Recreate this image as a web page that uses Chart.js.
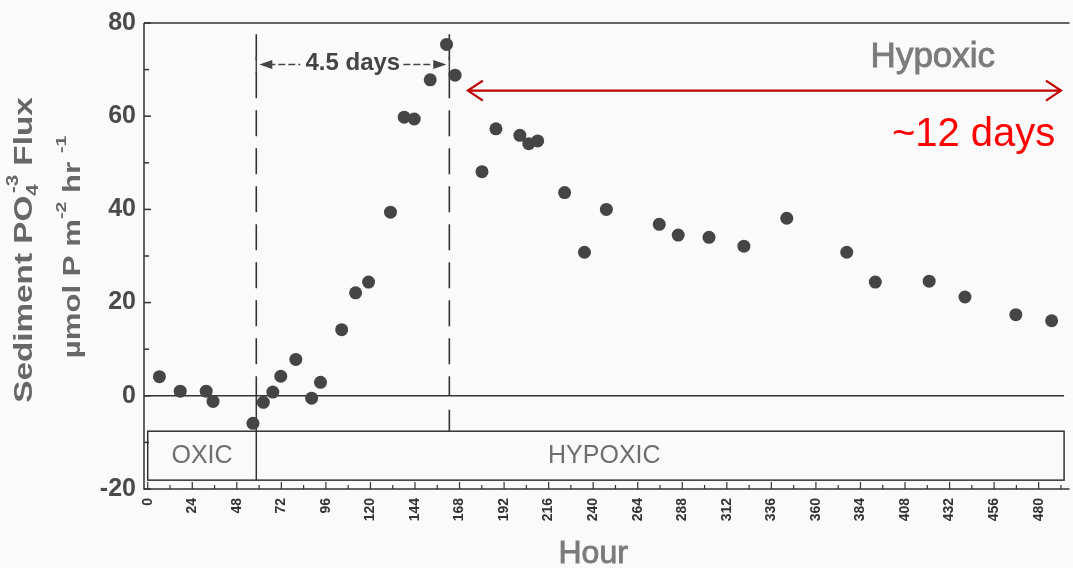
<!DOCTYPE html>
<html>
<head>
<meta charset="utf-8">
<script src="https://cdn.jsdelivr.net/npm/chart.js@4.4.1/dist/chart.umd.min.js"></script>
<style>
  body { margin: 0; background: #fafafa; }
  canvas { display: block; }
</style>
</head>
<body>
<canvas id="fluxChart" width="1073" height="568"></canvas>
<script>
// sampling hour and phosphate flux (umol P m-2 hr-1)
let hours = [6.3, 17.5, 31.5, 35.2, 56.7, 62.3, 67.4, 71.7, 79.8, 88.3, 93.1, 104.5, 112, 119, 130.8,
  138.2, 143.6, 152.2, 161, 165.6, 180.1, 187.6, 200.5, 205.3, 210.1, 224.6, 235.3, 247.1,
  275.6, 285.8, 302.4, 321.2, 344.3, 376.6, 392, 421, 440.3, 467.7, 487]
let flux = [4.1, 1.0, 1.0, -1.2, -5.9, -1.4, 0.8, 4.2, 7.8, -0.5, 2.9, 14.2, 22.1, 24.4, 39.4,
  59.8, 59.4, 67.8, 75.4, 68.8, 48.1, 57.3, 55.9, 54.1, 54.7, 43.6, 30.8, 40,
  36.8, 34.5, 34, 32.1, 38.1, 30.8, 24.4, 24.6, 21.2, 17.4, 16.1]

let hourTicks = [0, 24, 48, 72, 96, 120, 144, 168, 192, 216, 240, 264, 288, 312, 336, 360, 384, 408, 432, 456, 480]
let fluxTicks = [-20, 0, 20, 40, 60, 80]

// oxic -> hypoxic switch and end of the 4.5 day lag
let switchHour = 58.5
let peakHour = 162.5

let fam = '"Liberation Sans", Arial, sans-serif'

// text with sub/superscripts, drawn along the current x direction
function richText(ctx, parts, cx, cy, size, weight) {
  let small = Math.round(size * 0.62)
  let w = 0
  parts.forEach(p => {
    if (p.sub !== undefined) {
      ctx.font = weight + ' ' + small + 'px ' + fam
      w += Math.max(ctx.measureText(p.sub).width, ctx.measureText(p.sup).width + 2)
    } else {
      ctx.font = weight + ' ' + (p.up ? small : size) + 'px ' + fam
      w += ctx.measureText(p.t).width
    }
  })
  let x = cx - w / 2
  ctx.textBaseline = 'middle'
  ctx.textAlign = 'left'
  parts.forEach(p => {
    if (p.sub !== undefined) {
      ctx.font = weight + ' ' + small + 'px ' + fam
      let a = ctx.measureText(p.sub).width, b = ctx.measureText(p.sup).width
      ctx.fillText(p.sub, x, cy + size * 0.32)
      ctx.fillText(p.sup, x + 2, cy - size * 0.45)
      x += Math.max(a, b + 2)
    } else if (p.up) {
      ctx.font = weight + ' ' + small + 'px ' + fam
      ctx.fillText(p.t, x, cy - size * 0.45)
      x += ctx.measureText(p.t).width
    } else {
      ctx.font = weight + ' ' + size + 'px ' + fam
      ctx.fillText(p.t, x, cy)
      x += ctx.measureText(p.t).width
    }
  })
}

function arrowHead(ctx, x, y, dir, len, half, filled) {
  ctx.beginPath()
  ctx.moveTo(x - dir * len, y - half)
  ctx.lineTo(x, y)
  ctx.lineTo(x - dir * len, y + half)
  if (filled) { ctx.closePath(); ctx.fill() } else ctx.stroke()
}

// slightly heavier label text
function heavyText(ctx, txt, x, y) {
  ctx.fillText(txt, x, y)
  ctx.strokeText(txt, x, y)
}

let decor = {
  id: 'decor',
  beforeDraw(chart) {
    let ctx = chart.ctx
    ctx.save()
    ctx.fillStyle = '#fafafa'
    ctx.fillRect(0, 0, chart.width, chart.height)
    ctx.restore()
  },
  beforeDatasetsDraw(chart) {
    let ctx = chart.ctx, a = chart.chartArea
    let xs = chart.scales.x, ys = chart.scales.y
    let X = v => xs.getPixelForValue(v), Y = v => ys.getPixelForValue(v)
    ctx.save()
    ctx.strokeStyle = '#333'
    ctx.lineWidth = 1.5

    // frame: left axis, top, bottom axis
    ctx.beginPath()
    ctx.moveTo(a.left, a.top); ctx.lineTo(a.right + 3, a.top)
    ctx.moveTo(a.left, a.top); ctx.lineTo(a.left, a.bottom)
    ctx.lineTo(a.right + 3, a.bottom)
    ctx.stroke()

    // y tick marks every 10, pointing in
    for (let v = -20; v <= 80; v += 10) {
      ctx.beginPath()
      ctx.moveTo(a.left, Y(v)); ctx.lineTo(a.left + (v % 20 === 0 ? 7 : 5), Y(v))
      ctx.stroke()
    }
    // x tick marks every 12 h
    ctx.lineWidth = 1.2
    for (let h = 0; h <= 492; h += 12) {
      ctx.beginPath()
      ctx.moveTo(X(h), a.bottom); ctx.lineTo(X(h), a.bottom - (h % 24 === 0 ? 7 : 4))
      ctx.stroke()
    }

    // zero line
    ctx.lineWidth = 1.5
    ctx.beginPath()
    ctx.moveTo(a.left, Y(0)); ctx.lineTo(X(493.7), Y(0))
    ctx.stroke()

    // oxic / hypoxic box
    ctx.strokeRect(X(0), Y(-7.6), X(493.7) - X(0), Y(-18.1) - Y(-7.6))
    ctx.beginPath()
    ctx.moveTo(X(switchHour), Y(0)); ctx.lineTo(X(switchHour), Y(-18.1))
    ctx.stroke()

    // dashed period lines
    ctx.setLineDash([26, 12])
    ctx.lineWidth = 1.6
    ctx.beginPath()
    ctx.moveTo(X(switchHour), Y(77.6)); ctx.lineTo(X(switchHour), Y(0))
    ctx.moveTo(X(peakHour), Y(77.6)); ctx.lineTo(X(peakHour), Y(0))
    ctx.stroke()
    ctx.setLineDash([])
    ctx.beginPath()
    ctx.moveTo(X(peakHour), Y(-3)); ctx.lineTo(X(peakHour), Y(-7.6))
    ctx.stroke()

    // 4.5 days span
    let ay = Y(71.1)
    ctx.strokeStyle = '#444'
    ctx.fillStyle = '#444'
    ctx.lineWidth = 1.5
    ctx.beginPath()
    ctx.moveTo(X(switchHour), ay - 8); ctx.lineTo(X(switchHour), ay + 9)
    ctx.moveTo(X(peakHour), ay - 8); ctx.lineTo(X(peakHour), ay + 9)
    ctx.stroke()
    ctx.setLineDash([7, 3])
    ctx.beginPath()
    ctx.moveTo(X(switchHour) + 12, ay); ctx.lineTo(X(switchHour) + 44, ay)
    ctx.moveTo(X(peakHour) - 46, ay); ctx.lineTo(X(peakHour) - 12, ay)
    ctx.stroke()
    ctx.setLineDash([])
    arrowHead(ctx, X(switchHour) + 3, ay, -1, 13, 4.5, true)
    arrowHead(ctx, X(peakHour) - 3, ay, 1, 13, 4.5, true)
    ctx.font = 'bold 24px ' + fam
    ctx.textAlign = 'center'
    ctx.textBaseline = 'middle'
    ctx.fillText('4.5 days', (X(switchHour) + X(peakHour)) / 2, ay - 1)

    // box labels
    ctx.fillStyle = '#6e6e6e'
    ctx.font = '25px ' + fam
    ctx.fillText('OXIC', (X(0) + X(switchHour)) / 2, Y(-12.9))
    ctx.fillText('HYPOXIC', X(246), Y(-12.9))
    ctx.restore()
  },
  afterDraw(chart) {
    let ctx = chart.ctx
    let xs = chart.scales.x, ys = chart.scales.y
    let X = v => xs.getPixelForValue(v), Y = v => ys.getPixelForValue(v)
    ctx.save()

    // hypoxic duration arrow
    let ry = Y(65.5)
    ctx.strokeStyle = '#c00000'
    ctx.lineWidth = 2.2
    ctx.beginPath()
    ctx.moveTo(X(172.5), ry); ctx.lineTo(X(492), ry)
    ctx.stroke()
    arrowHead(ctx, X(172.5), ry, -1, 15, 10, false)
    arrowHead(ctx, X(492), ry, 1, 15, 10, false)

    ctx.fillStyle = '#ff0000'
    ctx.font = '40px ' + fam
    ctx.textAlign = 'right'
    ctx.textBaseline = 'alphabetic'
    ctx.fillText('~12 days', X(489), Y(53.6))

    ctx.fillStyle = '#7b7b7b'
    ctx.strokeStyle = '#7b7b7b'
    ctx.lineWidth = 0.9
    ctx.font = '35px ' + fam
    ctx.textAlign = 'center'
    heavyText(ctx, 'Hypoxic', X(423), Y(70.6))

    // x title
    ctx.font = '32px ' + fam
    heavyText(ctx, 'Hour', X(240), 563)

    // y title, two rotated lines stretched along the text
    ctx.fillStyle = '#676767'
    ctx.save()
    ctx.translate(25, 250)
    ctx.rotate(-Math.PI / 2)
    ctx.scale(1.28, 1)
    richText(ctx, [{t: 'Sediment PO'}, {sub: '4', sup: '-3'}, {t: ' Flux'}], 0, 0, 26, 'bold')
    ctx.restore()
    ctx.save()
    ctx.translate(73, 247)
    ctx.rotate(-Math.PI / 2)
    ctx.scale(1.3, 1)
    richText(ctx, [{t: 'µmol P m'}, {t: '-2', up: true}, {t: ' hr '}, {t: '-1', up: true}], 0, 0, 24, 'bold')
    ctx.restore()
    ctx.restore()
  }
}

let ctx = document.getElementById('fluxChart').getContext('2d')
let points = hours.map((h, i) => ({ x: h, y: flux[i] }))

let fluxChart = new Chart(ctx, {
  type: 'scatter',
  data: {
    datasets: [{
      data: points,
      pointRadius: 6.5,
      pointBackgroundColor: '#454545',
      pointBorderWidth: 0
    }]
  },
  options: {
    responsive: false,
    animation: false,
    layout: { padding: { top: 20, right: 3, left: 0, bottom: 0 } },
    plugins: { legend: { display: false }, tooltip: { enabled: false } },
    scales: {
      x: {
        type: 'linear',
        min: -2,
        max: 495,
        afterBuildTicks: s => { s.ticks = hourTicks.map(v => ({ value: v })) },
        afterFit: s => { s.height = 79 },
        grid: { display: false, drawTicks: false },
        border: { display: false },
        ticks: {
          autoSkip: false,
          minRotation: 90,
          maxRotation: 90,
          padding: 9,
          color: '#333',
          font: { family: fam, weight: 'bold', size: 14 }
        }
      },
      y: {
        min: -20,
        max: 80,
        afterBuildTicks: s => { s.ticks = fluxTicks.map(v => ({ value: v })) },
        afterFit: s => { s.width = 144 },
        grid: { display: false, drawTicks: false },
        border: { display: false },
        ticks: {
          padding: 8,
          color: '#4a4a4a',
          font: { family: fam, weight: 'bold', size: 25 }
        }
      }
    }
  },
  plugins: [decor]
})
</script>
</body>
</html>
